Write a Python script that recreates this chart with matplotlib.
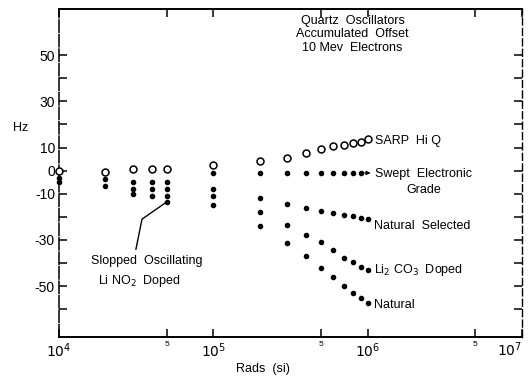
import numpy as np
import matplotlib
matplotlib.use("Agg")
import matplotlib.pyplot as plt

plt.rcParams['font.family'] = ['Liberation Sans', 'DejaVu Sans']

# dose points (rads, Si)
rads = [1e4, 2e4, 3e4, 4e4, 5e4, 1e5, 2e5, 3e5, 4e5, 5e5, 6e5, 7e5, 8e5, 9e5, 1e6]
nan = np.nan

# accumulated frequency offset, Hz
sarp_hi_q = [0, -0.5, 0.5, 0.5, 0.5, 2.5, 4, 5.5, 7.5, 9.5, 10.5, 11, 12, 12.5, 13.5]
swept_electronic = [-3, -3.5, -5, -5, -5, -1, -1, -1, -1, -1, -1, -1, -1, -1, nan]
natural_selected = [-5, -6.5, -8, -8, -8, -8, -12, -14.5, -16, -17.5, -18.5, -19.3, -19.7, -20.5, -21]
li2co3_doped = [nan, nan, -10, -11, -11, -11, -18, -23.5, -28, -31, -34.5, -37.8, -39.5, -41.6, -43]
natural = [nan, nan, nan, nan, nan, -15, -24, -31.5, -37, -42, -46, -50, -53, -55, -57.5]
lino2_doped = [nan, nan, nan, nan, -13.5, nan, nan, nan, nan, nan, nan, nan, nan, nan, nan]

x_ticks = [1e4, 5e4, 1e5, 5e5, 1e6, 5e6, 1e7]
x_tick_labels = ['$10^4$', '5', '$10^5$', '5', '$10^6$', '5', '$10^7$']
y_ticks = list(range(-60, 51, 10))
y_labeled = [50, 30, 10, 0, -10, -30, -50]

fig = plt.figure(figsize=(5.32, 3.76), dpi=100)
ax = fig.add_axes([0.111, 0.104, 0.870, 0.872])
ax.set_xscale('log')
ax.set_xlim(1e4, 1e7)
ax.set_ylim(-72, 70)

dot = dict(ls='none', marker='o', ms=3, color='black', clip_on=False)
ax.plot(rads, sarp_hi_q, ls='none', marker='o', ms=5, mfc='white', mec='black',
        mew=1.1, clip_on=False, zorder=3)
for series in [swept_electronic, natural_selected, li2co3_doped, natural, lino2_doped]:
    ax.plot(rads, series, **dot)

# curve labels
fs = 9
ax.text(1.12e6, 13, 'SARP  Hi Q', fontsize=fs, va='center')
ax.annotate('', xy=(1.09e6, -1), xytext=(9.2e5, -1),
            arrowprops=dict(arrowstyle='-|>', lw=0.8, color='black', mutation_scale=6))
ax.text(1.12e6, -1.5, 'Swept  Electronic', fontsize=fs, va='center')
ax.text(2.3e6, -8.5, 'Grade', fontsize=fs, va='center', ha='center')
ax.text(1.1e6, -24, 'Natural  Selected', fontsize=fs, va='center')
ax.text(1.1e6, -43, 'Li$_2$ CO$_3$  Doped', fontsize=fs, va='center')
ax.text(1.1e6, -58, 'Natural', fontsize=fs, va='center')

# leader for the oscillating LiNO2 unit
ax.plot([5e4, 3.45e4, 3.15e4], [-13.5, -21, -34], color='black', lw=1.0)
ax.text(1.6e4, -39, 'Slopped  Oscillating', fontsize=fs, va='center')
ax.text(1.8e4, -48, 'Li NO$_2$  Doped', fontsize=fs, va='center')

ax.text(8e5, 59, 'Quartz  Oscillators\nAccumulated  Offset\n10 Mev  Electrons',
        fontsize=fs, ha='center', va='center', linespacing=1.15)

# axes, ticks
ax.set_xticks(x_ticks)
ax.set_xticklabels(x_tick_labels[:-1] + [''])
ax.xaxis.set_minor_locator(matplotlib.ticker.NullLocator())
for lbl, txt in zip(ax.get_xticklabels(), x_tick_labels):
    lbl.set_fontsize(6 if txt == '5' else 10)
# last decade label sits at the figure edge, keep it inside
ax.text(1.0, -0.01, x_tick_labels[-1], transform=ax.transAxes, fontsize=10,
        ha='right', va='top')
ax.set_yticks(y_ticks)
ax.set_yticklabels([str(v) if v in y_labeled else '' for v in y_ticks], fontsize=10)
ax.tick_params(which='both', direction='in', length=6, width=1.1,
               top=True, right=True, labeltop=False, labelright=False, pad=3)

for side in ['top', 'bottom']:
    ax.spines[side].set_linewidth(1.4)
ax.spines['left'].set_linewidth(1.1)
ax.spines['left'].set_linestyle((0, (8, 1.5)))
ax.spines['right'].set_linewidth(1.0)
ax.spines['right'].set_linestyle((0, (5, 2.5)))

fig.text(0.038, 0.66, 'Hz', fontsize=9, ha='center', va='center')
ax.text(2.1e5, -86, 'Rads  (si)', fontsize=9, ha='center', va='center')

fig.savefig('out.png', dpi=100)
